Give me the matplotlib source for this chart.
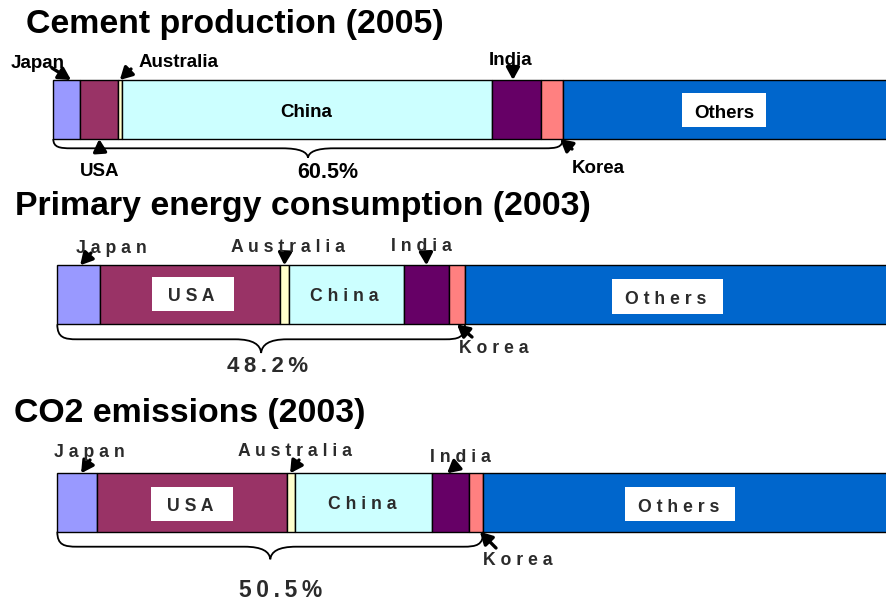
import matplotlib
matplotlib.use('Agg')
import matplotlib.pyplot as plt
from matplotlib.patches import Rectangle, PathPatch
from matplotlib.path import Path
from matplotlib.transforms import IdentityTransform
import numpy as np

plt.rcParams['font.family'] = ['Liberation Sans', 'DejaVu Sans']

# ---------------- data ----------------
countries = ['Japan', 'USA', 'Australia', 'China', 'India', 'Korea', 'Others']
colors = ['#9999FF', '#993366', '#FFFFCC', '#CCFFFF', '#660066', '#FF8080', '#0066CC']
titles = ['Cement production (2005)',
          'Primary energy consumption (2003)',
          'CO2 emissions (2003)']
cement_share = [3.2, 4.5, 0.4, 44.0, 5.8, 2.6, 39.5]
energy_share = [5.0, 21.3, 1.1, 13.6, 5.3, 1.9, 51.8]
co2_share = [4.7, 22.5, 1.0, 16.2, 4.4, 1.7, 49.5]
series = [cement_share, energy_share, co2_share]

# ---------------- layout (pixels, top-left origin) ----------------
W, H = 887, 601
panels = [
    dict(rect=(53.3, 80, 842, 59), title=(26, 32.7), spaced=False, fs=13.5, tc='black',
         outside={'Japan': (37.5, 68, 0.66, 'top', 52, 68),
                  'Australia': (179, 67.3, 0.5, 'top', 131, 69),
                  'USA': (100, 176, 0.5, 'bottom', 100, 151),
                  'India': (511, 65, 0.43, 'top', 513, 66),
                  'Korea': (598, 173.3, 0.88, 'bottom', 572, 149)},
         inside={'China': (306, 117, None),
                 'Others': (724, 118.3, (682, 92.7, 766, 126.7))},
         brace=(9.3, 9.4, 18, 26), pct=(328, 178.3, 15.5)),
    dict(rect=(57.3, 265.3, 845.8, 59), title=(15, 215), spaced=True, fs=12.7, tc='#2b2b2b',
         outside={'Japan': (111.3, 252.5, 0.54, 'top', 91, 253),
                  'Australia': (288, 252.3, 0.5, 'top', 285, 253),
                  'India': (421.7, 251, 0.5, 'top', 426, 253),
                  'Korea': (494, 353.3, 0.5, 'bottom', 472, 337)},
         inside={'USA': (191.7, 301, (152, 276.7, 234, 310.7)),
                 'China': (344.5, 301, None),
                 'Others': (666, 304.3, (612, 279, 723, 313.7))},
         brace=(15, 13.7, 20, 26), pct=(268, 371.7, 16)),
    dict(rect=(57.3, 473.3, 843.6, 58.4), title=(14, 421.7), spaced=True, fs=12.7, tc='#2b2b2b',
         outside={'Japan': (89.5, 456.7, 0.6, 'top', 90, 460),
                  'Australia': (294.8, 456, 0.4, 'top', 299, 460),
                  'India': (460, 461.7, 0.41, 'top', 457, 465),
                  'Korea': (518, 565, 0.76, 'bottom', 496, 548)},
         inside={'USA': (190, 511, (151, 487, 232.7, 520.7)),
                 'China': (362.5, 509, None),
                 'Others': (678.8, 511.7, (625, 487, 735, 520.7))},
         brace=(15, 12.6, 20, 26), pct=(281, 596.7, 16.5)),
]


def fx(x):
    return x / W


def fy(y):
    return 1 - y / H


fig = plt.figure(figsize=(W / 100, H / 100), dpi=100)
fig.patch.set_facecolor('white')

for p, vals, title in zip(panels, series, titles):
    l, t, w, h = p['rect']
    ax = fig.add_axes([fx(l), fy(t + h), w / W, h / H])
    ax.set_xlim(0, 100)
    ax.set_ylim(0, 1)
    ax.axis('off')
    vals = np.array(vals, dtype=float)
    lefts = np.concatenate([[0], np.cumsum(vals)[:-1]])
    bars = ax.barh(0.5, vals, left=lefts, height=1, color=colors,
                   edgecolor='black', linewidth=1.0)
    for b in bars:
        b.set_clip_on(False)

    # title
    fig.text(fx(p['title'][0]), fy(p['title'][1]), title, fontsize=24.4,
             fontweight='bold', ha='left', va='baseline', color='black')

    def lab(name):
        return ' '.join(name) if p['spaced'] else name

    # outside labels with arrows
    for name, (tx, tb, frac, side, ax_, ay_) in p['outside'].items():
        i = countries.index(name)
        fig.text(fx(tx), fy(tb), lab(name), ha='center', va='baseline',
                 fontsize=p['fs'], fontweight='bold', color=p['tc'], zorder=5)
        hx = lefts[i] + frac * vals[i]
        hy = 1.0 if side == 'top' else 0.0
        ax.annotate('', xy=(hx, hy), xycoords='data',
                    xytext=(fx(ax_), fy(ay_)), textcoords='figure fraction',
                    arrowprops=dict(arrowstyle='-|>,head_length=0.6,head_width=0.33',
                                    color='black', lw=2.4, shrinkA=0, shrinkB=0,
                                    mutation_scale=12),
                    annotation_clip=False)

    # inside labels
    for name, (cx, tb, box) in p['inside'].items():
        if box is not None:
            x0b, y0b, x1b, y1b = box
            fig.add_artist(Rectangle((fx(x0b), fy(y1b)), (x1b - x0b) / W, (y1b - y0b) / H,
                                     transform=fig.transFigure, facecolor='white',
                                     edgecolor='none', zorder=4))
        fig.text(fx(cx), fy(tb), lab(name), ha='center', va='baseline',
                 fontsize=p['fs'], fontweight='bold', color=p['tc'], zorder=5)

    # brace under the six named countries
    total6 = float(np.sum(vals[:6]))
    d1, d2, re, rt = p['brace']
    X0, Yb = ax.transData.transform((0, 0))
    X1, _ = ax.transData.transform((total6, 0))
    Xt = (X0 + X1) / 2
    Ym = Yb - d1
    Yt = Ym - d2
    verts = [
        (X0, Yb),
        (X0, Yb - 0.9 * d1), (X0 + 0.35 * re, Ym), (X0 + re, Ym),
        (Xt - rt, Ym),
        (Xt - 0.3 * rt, Ym), (Xt - 0.03 * rt, Ym - 0.4 * d2), (Xt, Yt),
        (Xt + 0.03 * rt, Ym - 0.4 * d2), (Xt + 0.3 * rt, Ym), (Xt + rt, Ym),
        (X1 - re, Ym),
        (X1 - 0.35 * re, Ym), (X1, Yb - 0.9 * d1), (X1, Yb),
    ]
    codes = [Path.MOVETO,
             Path.CURVE4, Path.CURVE4, Path.CURVE4,
             Path.LINETO,
             Path.CURVE4, Path.CURVE4, Path.CURVE4,
             Path.CURVE4, Path.CURVE4, Path.CURVE4,
             Path.LINETO,
             Path.CURVE4, Path.CURVE4, Path.CURVE4]
    fig.add_artist(PathPatch(Path(verts, codes), transform=IdentityTransform(),
                             fill=False, lw=1.3, edgecolor='black'))

    pct = f"{total6:.1f}%"
    pcx, pcb, pfs = p['pct']
    fig.text(fx(pcx), fy(pcb), '\u2009'.join(pct) if p['spaced'] else pct,
             ha='center', va='baseline', fontsize=pfs, fontweight='bold',
             color=p['tc'])

fig.savefig('out.png', dpi=100)
